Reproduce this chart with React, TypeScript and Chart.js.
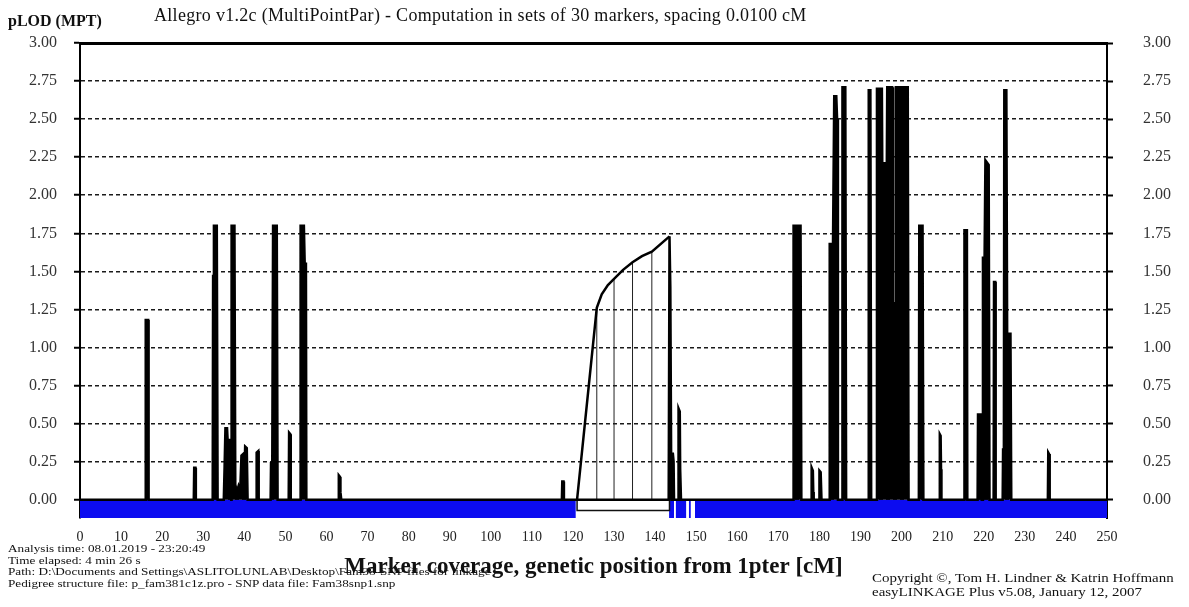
import React, { useEffect, useRef } from "react";
import { Chart, registerables } from "chart.js";

Chart.register(...registerables);

const SERIF = '"Liberation Serif", "Times New Roman", Times, serif';

// Genetic positions (cM) and pLOD values of the multipoint trace; spikes are filled down to zero
const traceCM = [
  0,
  15.9, 16.0, 16.6, 16.7,
  27.7, 27.8, 28.1, 28.2,
  32.3, 32.4, 32.6, 33.3, 33.5,
  35.0, 35.2, 35.4, 35.8, 36.1, 36.3, 36.5, 36.8, 36.9, 37.6, 37.8, 38.2, 38.6, 39.0, 39.3, 39.7, 39.9, 40.2, 40.6, 40.8,
  42.9, 43.0, 43.4, 43.5,
  46.4, 46.5, 46.8, 47.0, 47.9, 48.1,
  50.8, 50.9, 51.2, 51.3,
  53.6, 53.7, 54.5, 54.7, 55.0, 55.1,
  62.9, 63.0, 63.3, 63.4, 63.6,
  117.3, 117.4, 117.7, 117.8,
  143.3, 143.5, 143.7, 143.9, 144.0,
  144.2, 144.3, 144.5, 144.6,
  145.6, 145.7, 146.0, 146.1, 146.3,
  173.6, 173.7, 175.4, 175.6,
  178.0, 178.1, 178.4, 178.5, 178.6,
  179.9, 180.0, 180.3, 180.5,
  182.4, 182.5, 183.3, 183.6, 184.1, 184.3, 184.5,
  185.5, 185.6, 186.3, 186.5,
  191.9, 192.0, 192.4, 192.6,
  193.8, 194.0, 195.2, 195.4, 195.7, 195.9, 196.4, 196.5, 197.7, 197.9, 198.4, 198.6, 199.7, 199.8, 200.0, 200.1, 201.5, 201.7,
  204.2, 204.3, 205.1, 205.3,
  209.2, 209.3, 209.5, 209.6, 209.7,
  215.2, 215.3, 215.9, 216.0,
  218.5, 218.6, 219.3, 219.5,
  219.7, 219.8, 220.2, 220.4, 221.2, 221.4,
  222.4, 222.5, 222.8, 222.9,
  224.6, 224.7, 224.9, 225.0, 225.5, 225.7, 226.5, 226.7,
  235.6, 235.7, 235.9, 236.0, 236.1,
  250,
];
const traceLOD = [
  0,
  0, 1.18, 1.18, 0,
  0, 0.21, 0.21, 0,
  0, 1.47, 1.8, 1.8, 0,
  0, 0.22, 0.47, 0.47, 0.3, 0.4, 0.12, 0, 1.8, 1.8, 0.1, 0.05, 0.09, 0.06, 0.29, 0.3, 0.05, 0.35, 0.34, 0,
  0, 0.31, 0.32, 0,
  0, 0.24, 0.24, 1.8, 1.8, 0,
  0, 0.44, 0.43, 0,
  0, 1.8, 1.8, 1.55, 1.55, 0,
  0, 0.16, 0.15, 0.05, 0,
  0, 0.12, 0.12, 0,
  0, 1.73, 1.4, 0.3, 0,
  0, 0.31, 0.25, 0,
  0, 0.6, 0.58, 0.2, 0,
  0, 1.8, 1.8, 0,
  0, 0.21, 0.19, 0.05, 0,
  0, 0.19, 0.18, 0,
  0, 1.68, 1.68, 2.65, 2.65, 2.5, 0,
  0, 2.71, 2.71, 0,
  0, 2.69, 2.69, 0,
  0, 2.7, 2.7, 1.62, 1.62, 2.21, 2.21, 2.71, 2.71, 1.29, 1.29, 2.71, 2.71, 2.45, 2.45, 2.71, 2.71, 0,
  0, 1.8, 1.8, 0,
  0, 0.43, 0.42, 0.2, 0,
  0, 1.77, 1.77, 0,
  0, 0.56, 0.56, 0,
  0, 1.59, 1.59, 2.23, 2.2, 0,
  0, 1.43, 1.43, 0,
  0, 0.33, 0.35, 2.69, 2.69, 1.09, 1.09, 0,
  0, 0.31, 0.3, 0.18, 0,
  0,
];

// Smooth pLOD curve over the region without marker coverage
const curveCM = [121.0, 125.8, 127.0, 128.5, 130.0, 132.2, 134.5, 136.8, 139.2, 143.5];
const curveLOD = [0, 1.26, 1.35, 1.41, 1.45, 1.51, 1.56, 1.6, 1.63, 1.73];

// Marker positions inside that region, drawn as thin drop lines
const markerCM = [125.8, 130.0, 134.5, 139.2];
const markerLOD = [1.26, 1.45, 1.56, 1.63];

// Marker coverage bar (blue) and the uncovered stretch (white box)
const coverageFromCM = [0, 143.4, 145.0, 148.2, 149.7];
const coverageToCM = [120.7, 144.6, 147.6, 148.7, 250];
const gapCM = [121.0, 143.5];

const yTicks = [0, 0.25, 0.5, 0.75, 1, 1.25, 1.5, 1.75, 2, 2.25, 2.5, 2.75, 3];
const xTicks = [
  0, 10, 20, 30, 40, 50, 60, 70, 80, 90, 100, 110, 120, 130, 140, 150, 160, 170, 180, 190, 200, 210, 220, 230,
  240, 250,
];

const Y_MIN = -0.12;
const Y_MAX = 3;
const BAR_BOTTOM = -0.12;
const BOX_BOTTOM = -0.07;
const BLUE = "rgb(12, 12, 240)";

const setTicks = (values: number[]) => (scale: any) => {
  scale.ticks = values.map((v) => ({ value: v }));
};

export default function App() {
  const canvasRef = useRef<HTMLCanvasElement | null>(null);

  useEffect(() => {
    const canvas = canvasRef.current;
    if (!canvas) return;

    const trace = traceCM.map((x, i) => ({ x, y: traceLOD[i] }));
    const curve = curveCM.map((x, i) => ({ x, y: curveLOD[i] }));
    const markers: { x: number; y: number | null }[] = [];
    markerCM.forEach((x, i) => {
      markers.push({ x, y: 0 }, { x, y: markerLOD[i] }, { x, y: null });
    });
    const box = [
      { x: gapCM[0], y: 0 },
      { x: gapCM[0], y: BOX_BOTTOM },
      { x: gapCM[1], y: BOX_BOTTOM },
      { x: gapCM[1], y: 0 },
    ];
    const coverageSets = coverageFromCM.map((from, i) => ({
      type: "line" as const,
      data: [
        { x: from, y: 0 },
        { x: coverageToCM[i], y: 0 },
      ],
      borderWidth: 0,
      borderColor: "transparent",
      backgroundColor: BLUE,
      fill: { value: BAR_BOTTOM },
      pointRadius: 0,
    }));

    const yCommon = {
      type: "linear" as const,
      min: Y_MIN,
      max: Y_MAX,
      afterBuildTicks: setTicks(yTicks),
    };

    const chart = new Chart(canvas, {
      type: "line",
      data: {
        datasets: [
          {
            label: "pLOD",
            data: trace,
            borderColor: "#000",
            backgroundColor: "#000",
            borderWidth: 2.5,
            fill: "origin",
            pointRadius: 0,
            tension: 0,
          },
          {
            label: "curve",
            data: curve,
            borderColor: "#000",
            borderWidth: 2.5,
            fill: false,
            pointRadius: 0,
            tension: 0,
          },
          {
            label: "markers",
            data: markers,
            borderColor: "#222",
            borderWidth: 1,
            fill: false,
            pointRadius: 0,
            spanGaps: false,
          },
          {
            label: "gap",
            data: box,
            borderColor: "#111",
            borderWidth: 1.5,
            fill: false,
            pointRadius: 0,
          },
          ...coverageSets,
        ] as any,
      },
      options: {
        responsive: false,
        animation: false,
        devicePixelRatio: 1,
        layout: { padding: 0 },
        plugins: {
          legend: { display: false },
          tooltip: { enabled: false },
          title: { display: false },
        },
        scales: {
          x: {
            type: "linear",
            position: "bottom",
            min: 0,
            max: 250,
            afterBuildTicks: setTicks(xTicks),
            afterFit: (s: any) => {
              s.height = 89;
            },
            ticks: {
              font: { family: SERIF, size: 14 },
              color: "#222",
              padding: 3,
              maxRotation: 0,
              autoSkip: false,
              callback: (v: any) => String(v),
            },
            grid: { display: false },
            border: { display: false },
            title: {
              display: true,
              text: "Marker coverage, genetic position from 1pter [cM]",
              font: { family: SERIF, size: 23, weight: "bold", lineHeight: 1.2 },
              color: "#111",
              padding: { top: 0, bottom: 26 },
            },
          },
          xTop: {
            type: "linear",
            position: "top",
            min: 0,
            max: 250,
            afterFit: (s: any) => {
              s.height = 43;
            },
            ticks: { display: false },
            grid: { display: false },
            border: { display: true, color: "#000", width: 3 },
          },
          y: {
            ...yCommon,
            position: "left",
            afterFit: (s: any) => {
              s.width = 80;
            },
            ticks: {
              font: { family: SERIF, size: 16 },
              color: "#333",
              padding: 17,
              callback: (v: any) => Number(v).toFixed(2),
            },
            grid: {
              color: "#1a1a1a",
              lineWidth: 1.5,
              drawTicks: true,
              tickLength: 6,
              tickColor: "#000",
              tickWidth: 2,
            },
            border: { display: true, color: "#000", width: 2, dash: [4, 3] },
          },
          y2: {
            ...yCommon,
            position: "right",
            afterFit: (s: any) => {
              s.width = 82;
            },
            ticks: {
              font: { family: SERIF, size: 16 },
              color: "#333",
              padding: 30,
              callback: (v: any) => Number(v).toFixed(2),
            },
            grid: {
              drawOnChartArea: false,
              drawTicks: true,
              tickLength: 6,
              tickColor: "#000",
              tickWidth: 2,
            },
            border: { display: true, color: "#000", width: 2 },
          },
        },
      } as any,
    });

    return () => chart.destroy();
  }, []);

  const text = (
    content: string,
    left: number,
    top: number,
    size: number,
    extra: React.CSSProperties = {}
  ) => (
    <div
      style={{
        position: "absolute",
        left,
        top,
        fontSize: size,
        lineHeight: `${size + 2}px`,
        whiteSpace: "nowrap",
        transformOrigin: "left center",
        ...extra,
      }}
    >
      {content}
    </div>
  );

  const small = { lineHeight: "11.7px", transform: "scaleX(1.2)" };
  const credit = { lineHeight: "14px", transform: "scaleX(1.15)" };

  return (
    <div
      style={{
        position: "absolute",
        left: 0,
        top: 0,
        width: 1189,
        height: 607,
        overflow: "hidden",
        background: "#fff",
        fontFamily: SERIF,
        color: "#111",
      }}
    >
      <canvas
        ref={canvasRef}
        width={1189}
        height={607}
        style={{ position: "absolute", left: 0, top: 0, width: 1189, height: 607 }}
      />
      {text("pLOD (MPT)", 8, 12, 16, { fontWeight: "bold" })}
      {text(
        "Allegro v1.2c (MultiPointPar) - Computation in sets of 30 markers, spacing 0.0100 cM",
        154,
        5,
        18,
        { letterSpacing: "0.3px" }
      )}
      {text("Analysis time: 08.01.2019 - 23:20:49", 8, 543, 11, small)}
      {text("Time elapsed: 4 min 26 s", 8, 554.7, 11, small)}
      {text(
        "Path: D:\\Documents and Settings\\ASLITOLUNLAB\\Desktop\\Fam38-SNP files for linkage",
        8,
        566.4,
        11,
        small
      )}
      {text(
        "Pedigree structure file: p_fam381c1z.pro - SNP data file: Fam38snp1.snp",
        8,
        578.1,
        11,
        small
      )}
      {text("Copyright ©, Tom H. Lindner & Katrin Hoffmann", 872, 571, 13, credit)}
      {text("easyLINKAGE Plus v5.08, January 12, 2007", 872, 585, 13, credit)}
    </div>
  );
}
